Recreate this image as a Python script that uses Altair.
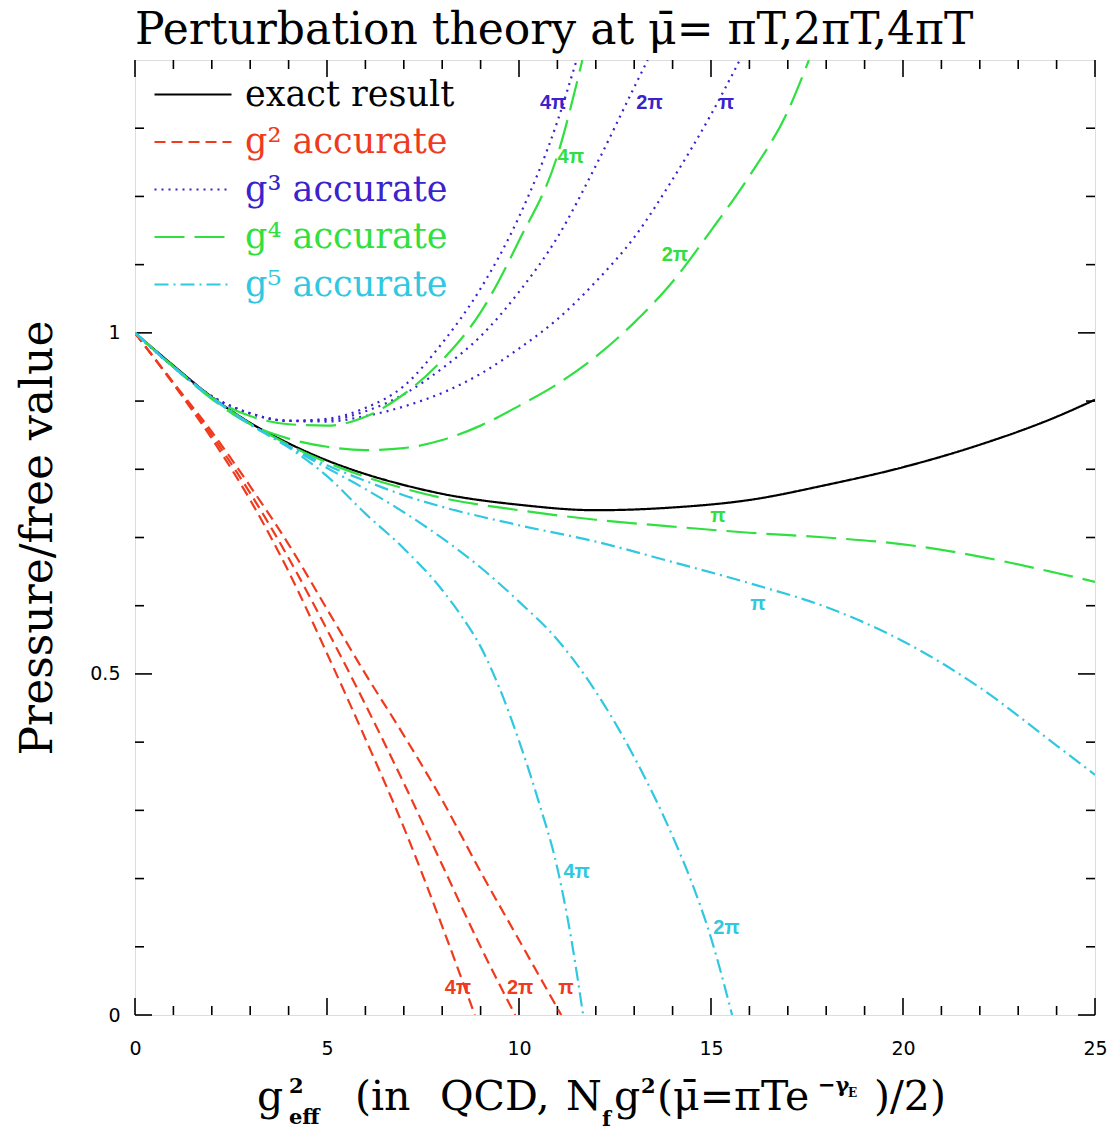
import altair as alt
import pandas as pd

W, H = 960, 955

# ---------------- series definitions ----------------
S_EX = "exact result"
S2 = "g² accurate"
S3 = "g³ accurate"
S4 = "g⁴ accurate"
S5 = "g⁵ accurate"
series_names = [S_EX, S2, S3, S4, S5]
series_colors = ["#000000", "#f03a1e", "#3a22cc", "#30e040", "#30c8e0"]
series_dashes = [[1, 0], [11, 6], [2, 5], [30, 10], [14, 5, 2, 5]]

# exact result
exact_x = [0, 1, 2, 3, 4, 5, 6, 7, 8, 10, 12, 14, 16, 18, 20, 22, 24, 25]
exact_y = [1.0, 0.952, 0.906, 0.868, 0.838, 0.813, 0.793, 0.777, 0.764, 0.748,
           0.740, 0.744, 0.755, 0.777, 0.803, 0.836, 0.877, 0.902]

# g^2 accurate
g2_pi_x = [0, 1, 2, 3, 4, 5, 6, 7, 8, 9, 10, 11.1]
g2_pi_y = [1.0, 0.927, 0.855, 0.775, 0.69, 0.595, 0.50, 0.41, 0.315, 0.21, 0.11, 0.0]
g2_2pi_x = [0, 1, 2, 3, 4, 5, 6, 7, 8, 9, 9.9]
g2_2pi_y = [1.0, 0.926, 0.85, 0.765, 0.67, 0.565, 0.455, 0.34, 0.22, 0.10, 0.0]
g2_4pi_x = [0, 1, 2, 3, 4, 5, 6, 7, 8, 8.85]
g2_4pi_y = [1.0, 0.925, 0.845, 0.755, 0.65, 0.53, 0.405, 0.275, 0.13, 0.0]

# g^3 accurate
g3_pi_x = [0, 1, 2, 3, 4, 5, 6, 7, 8, 9, 10, 11, 12, 13, 14, 15, 15.75]
g3_pi_y = [1.0, 0.95, 0.907, 0.882, 0.871, 0.870, 0.878, 0.892, 0.912, 0.94, 0.977,
           1.02, 1.075, 1.14, 1.225, 1.32, 1.40]
g3_2pi_x = [0, 1, 2, 3, 4, 5, 6, 7, 8, 9, 10, 11, 12, 13, 13.35]
g3_2pi_y = [1.0, 0.95, 0.907, 0.882, 0.871, 0.872, 0.885, 0.91, 0.948, 0.995, 1.06,
            1.14, 1.245, 1.36, 1.40]
g3_4pi_x = [0, 1, 2, 3, 4, 5, 6, 7, 8, 9, 10, 11, 11.5]
g3_4pi_y = [1.0, 0.95, 0.907, 0.882, 0.871, 0.874, 0.89, 0.922, 0.985, 1.065, 1.17, 1.31, 1.40]

# g^4 accurate
g4_pi_x = [0, 1, 2, 3, 4, 5, 6, 7, 8, 10, 12, 14, 16, 18, 20, 22, 24, 25]
g4_pi_y = [1.0, 0.951, 0.905, 0.867, 0.836, 0.810, 0.789, 0.772, 0.758, 0.740, 0.726,
           0.716, 0.707, 0.700, 0.690, 0.672, 0.648, 0.635]
g4_2pi_x = [0, 1, 2, 3, 4, 5, 6, 7, 8, 9, 10, 11, 12, 13, 14, 15, 16, 17, 17.55]
g4_2pi_y = [1.0, 0.95, 0.903, 0.866, 0.845, 0.833, 0.828, 0.831, 0.843, 0.864, 0.893,
            0.925, 0.965, 1.015, 1.075, 1.15, 1.23, 1.325, 1.40]
g4_4pi_x = [0, 1, 2, 3, 4, 5, 6, 7, 8, 9, 10, 11, 11.65]
g4_4pi_y = [1.0, 0.95, 0.905, 0.878, 0.866, 0.864, 0.877, 0.91, 0.96, 1.03, 1.135, 1.26, 1.40]

# g^5 accurate
g5_pi_x = [0, 1, 2, 3, 4, 5, 6, 7, 8, 10, 12, 14, 16, 18, 20, 22, 24, 25]
g5_pi_y = [1.0, 0.95, 0.905, 0.866, 0.834, 0.806, 0.783, 0.762, 0.745, 0.718, 0.694,
           0.664, 0.633, 0.598, 0.548, 0.48, 0.395, 0.352]
g5_2pi_x = [0, 1, 2, 3, 4, 5, 6, 7, 8, 9, 10, 11, 12, 13, 14, 14.5, 15, 15.55]
g5_2pi_y = [1.0, 0.95, 0.905, 0.866, 0.833, 0.802, 0.771, 0.737, 0.699, 0.656, 0.606,
            0.550, 0.474, 0.378, 0.262, 0.194, 0.113, 0.0]
g5_4pi_x = [0, 1, 2, 3, 4, 5, 6, 7, 8, 8.5, 9, 9.5, 10, 10.5, 11, 11.35, 11.67]
g5_4pi_y = [1.0, 0.95, 0.905, 0.866, 0.832, 0.79, 0.735, 0.684, 0.623, 0.585, 0.540,
            0.478, 0.402, 0.315, 0.215, 0.115, 0.0]

curves = [
    (S_EX, "-", exact_x, exact_y),
    (S2, "π", g2_pi_x, g2_pi_y), (S2, "2π", g2_2pi_x, g2_2pi_y), (S2, "4π", g2_4pi_x, g2_4pi_y),
    (S3, "π", g3_pi_x, g3_pi_y), (S3, "2π", g3_2pi_x, g3_2pi_y), (S3, "4π", g3_4pi_x, g3_4pi_y),
    (S4, "π", g4_pi_x, g4_pi_y), (S4, "2π", g4_2pi_x, g4_2pi_y), (S4, "4π", g4_4pi_x, g4_4pi_y),
    (S5, "π", g5_pi_x, g5_pi_y), (S5, "2π", g5_2pi_x, g5_2pi_y), (S5, "4π", g5_4pi_x, g5_4pi_y),
]

# curve annotations
lab_text = ["4π", "2π", "π", "4π", "2π", "π", "π", "4π", "2π", "4π", "2π", "π"]
lab_series = [S3, S3, S3, S4, S4, S4, S5, S5, S5, S2, S2, S2]
lab_x = [10.89, 13.4, 15.4, 11.35, 14.06, 15.18, 16.22, 11.5, 15.4, 8.41, 10.03, 11.22]
lab_y = [1.337, 1.337, 1.337, 1.258, 1.114, 0.732, 0.603, 0.21, 0.128, 0.04, 0.04, 0.04]

# ticks
x_major = [0, 5, 10, 15, 20, 25]
x_minor = [1, 2, 3, 4, 6, 7, 8, 9, 11, 12, 13, 14, 16, 17, 18, 19, 21, 22, 23, 24]
y_major = [0, 0.5, 1.0]
y_minor = [0.1, 0.2, 0.3, 0.4, 0.6, 0.7, 0.8, 0.9, 1.1, 1.2, 1.3]

SERIF = "DejaVu Serif"

# ---------------- build tables ----------------
rows = []
for s, mu, xs_, ys_ in curves:
    for i, (a, b) in enumerate(zip(xs_, ys_)):
        rows.append({"series": s, "mu": s + mu, "x": a, "y": b, "i": i})
df = pd.DataFrame(rows)

color_of = dict(zip(series_names, series_colors))
lab_df = pd.DataFrame({"t": lab_text, "x": lab_x, "y": lab_y,
                       "c": [color_of[s] for s in lab_series]})

xs = alt.Scale(domain=[0, 25], nice=False, zero=False)
ys = alt.Scale(domain=[0, 1.4], nice=False, zero=False)

x_axis = alt.Axis(values=x_major, format="d", title=None, ticks=False, tickSize=0,
                  domain=False, grid=False, labelFont="DejaVu Sans", labelFontSize=19,
                  labelPadding=24, labelColor="black", labelFlush=False)
y_axis = alt.Axis(values=y_major, format="~g", title="Pressure/free value", ticks=False,
                  tickSize=0, domain=False, grid=False, labelFont="DejaVu Sans",
                  labelFontSize=19, labelPadding=15, labelColor="black",
                  titleFont=SERIF, titleFontSize=44, titleFontWeight="normal",
                  titleColor="black", titleX=-97, titleY=H / 2, titleAlign="center",
                  titleBaseline="middle", titleAngle=270)


def X(f="x"):
    return alt.X(f + ":Q", scale=xs, axis=x_axis, title=None)


def Y(f="y"):
    return alt.Y(f + ":Q", scale=ys, axis=y_axis, title="Pressure/free value")


expr_parts = []
for n, c in zip(series_names, series_colors):
    expr_parts.append("datum.value === '%s' ? '%s' : " % (n, c))
label_expr = "".join(expr_parts) + "'black'"

leg = alt.Legend(title=None, orient="none", legendX=55, legendY=13,
                 symbolType="M-2.85,0H1", symbolSize=1600, symbolStrokeWidth=2.2,
                 labelFont=SERIF, labelFontSize=35, labelOffset=12,
                 rowPadding=7.5, padding=0, labelLimit=500,
                 labelColor=alt.ExprRef(expr=label_expr))

lines = alt.Chart(df).mark_line(strokeWidth=2.2, clip=True, interpolate="monotone").encode(
    x=X(), y=Y(),
    color=alt.Color("series:N", scale=alt.Scale(domain=series_names, range=series_colors), legend=leg),
    strokeDash=alt.StrokeDash("series:N", scale=alt.Scale(domain=series_names, range=series_dashes), legend=leg),
    detail="mu:N",
    order="i:Q",
)

labels = alt.Chart(lab_df).mark_text(font="Liberation Sans", fontSize=20, fontWeight="bold").encode(
    x=X(), y=Y(), text="t:N", fill=alt.Fill("c:N", scale=None, legend=None)
)


def xticks(vals, L):
    d = pd.DataFrame({"x": vals})
    b = alt.Chart(d).mark_rule(color="black", strokeWidth=1.6).encode(
        x=X(), y=alt.value(H), y2=alt.value(H - L))
    t = alt.Chart(d).mark_rule(color="black", strokeWidth=1.6).encode(
        x=X(), y=alt.value(0), y2=alt.value(L))
    return [b, t]


def yticks(vals, L):
    d = pd.DataFrame({"y": vals})
    l = alt.Chart(d).mark_rule(color="black", strokeWidth=1.6).encode(
        y=Y(), x=alt.value(0), x2=alt.value(L))
    r = alt.Chart(d).mark_rule(color="black", strokeWidth=1.6).encode(
        y=Y(), x=alt.value(W), x2=alt.value(W - L))
    return [l, r]


one = pd.DataFrame({"k": [0]})


def txt(s, px, py, size, weight="normal", font=SERIF):
    return alt.Chart(one).mark_text(text=s, font=font, fontSize=size, fontWeight=weight,
                                    align="left", baseline="alphabetic", color="black").encode(
        x=alt.value(px - 135), y=alt.value(py - 60))


xtitle = [
    txt("g", 257, 1110, 41),
    txt("2", 289, 1093, 21, "bold"),
    txt("eff", 289, 1124, 21, "bold"),
    txt("(in", 355, 1110, 41),
    txt("QCD,", 440, 1110, 41),
    txt("N", 566, 1110, 41),
    txt("f", 602, 1126, 21, "bold"),
    txt("g", 614, 1110, 41),
    txt("2", 641, 1093, 21, "bold"),
    txt("(μ̄=πTe", 657, 1110, 41),
    txt("−γ", 818, 1092, 21, "bold"),
    txt("E", 848, 1097, 12, "bold"),
    txt(")/2)", 874, 1110, 41),
]

layers = (xticks(x_major, 17) + xticks(x_minor, 9) + yticks(y_major, 17) + yticks(y_minor, 9)
          + [lines, labels] + xtitle)

chart = alt.layer(*layers).properties(
    width=W, height=H,
    title=alt.TitleParams(text="Perturbation theory at μ̄= πT,2πT,4πT", font=SERIF,
                          fontSize=44, fontWeight="normal", anchor="start", frame="group",
                          offset=6, color="black"),
    autosize=alt.AutoSizeParams(type="none"),
    padding={"left": 135, "top": 60, "right": 15, "bottom": 117},
).configure_view(stroke="black", strokeWidth=2).configure(background="white")

chart.save("out.html", embed_options={"renderer": "svg", "actions": False})
